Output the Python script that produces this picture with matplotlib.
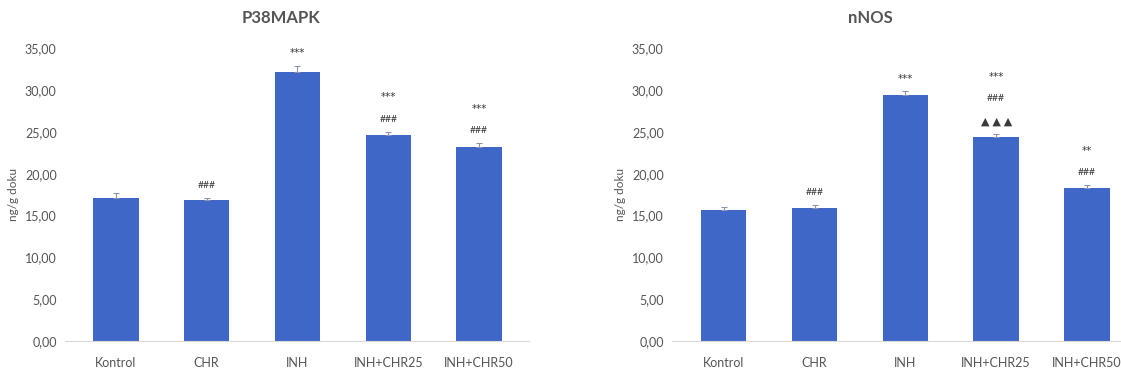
import numpy as np
import matplotlib
matplotlib.use("Agg")
import matplotlib.pyplot as plt
from matplotlib.ticker import FuncFormatter

plt.rcParams['font.family'] = ['Lato', 'DejaVu Sans']

groups = ["Kontrol", "CHR", "INH", "INH+CHR25", "INH+CHR50"]

p38_mean = [17.05, 16.8, 32.2, 24.6, 23.2]
p38_err = [0.6, 0.3, 0.7, 0.4, 0.45]
p38_marks = [[], ["###"], ["***"], ["###", "***"], ["###", "***"]]

nnos_mean = [15.65, 15.95, 29.4, 24.4, 18.3]
nnos_err = [0.35, 0.35, 0.45, 0.4, 0.3]
nnos_marks = [[], ["###"], ["***"], ["\u25B2 \u25B2 \u25B2", "###", "***"], ["###", "**"]]

BAR = '#3F67C8'
GREY = '#555555'
W, H = 1121, 377


def draw_panel(ax, means, errs, marks):
    x = np.arange(len(groups))
    ax.bar(x, means, width=0.5, color=BAR, zorder=2)
    ax.errorbar(x, means, yerr=[np.zeros(len(errs)), errs], fmt='none', ecolor='#8a94ad',
                elinewidth=0.8, capsize=2, capthick=0.8, zorder=3)
    for i, lines in enumerate(marks):
        top = means[i] + errs[i]
        for k, s in enumerate(lines):
            fam = ['DejaVu Sans'] if s.startswith('*') else ['Lato', 'DejaVu Sans']
            fs = 7.5 if s.startswith('*') else 7.5
            if s.startswith('\u25B2'):
                fs = 8
            ax.annotate(s, (x[i], top), xytext=(0, 9 + 16 * k), textcoords='offset points',
                        ha='center', va='center', fontsize=fs, color='#3a3a3a', family=fam)
    ax.set_ylim(0, 35)
    ax.set_yticks(np.arange(0, 36, 5))
    ax.yaxis.set_major_formatter(FuncFormatter(lambda v, p: ("%.2f" % v).replace('.', ',')))
    ax.set_xticks(x)
    ax.set_xticklabels(groups)
    ax.tick_params(axis='both', length=0, labelsize=9, labelcolor=GREY)
    ax.tick_params(axis='x', pad=12)
    ax.tick_params(axis='y', pad=6)
    for s in ['top', 'right', 'left']:
        ax.spines[s].set_visible(False)
    ax.spines['bottom'].set_color('#d9d9d9')
    ax.spines['bottom'].set_linewidth(0.8)
    ax.set_ylabel('ng/g doku', fontsize=8.5, color=GREY, labelpad=4)


fig = plt.figure(figsize=(W / 100, H / 100), dpi=100)
bottom = 1 - 340.7 / H
height = 35 * 8.35 / H

ax1 = fig.add_axes([65 / W, bottom, 464 / W, height])
draw_panel(ax1, p38_mean, p38_err, p38_marks)
ax1.set_xlim(-0.56, 4.55)

ax2 = fig.add_axes([672 / W, bottom, 464 / W, height])
draw_panel(ax2, nnos_mean, nnos_err, nnos_marks)
ax2.set_xlim(-0.57, 4.54)

fig.text(281 / W, 1 - 18 / H, 'P38MAPK', ha='center', va='center', fontsize=12,
         fontweight='bold', color=GREY)
fig.text(870 / W, 1 - 18 / H, 'nNOS', ha='center', va='center', fontsize=12,
         fontweight='bold', color=GREY)

fig.savefig('out.png', dpi=100)
